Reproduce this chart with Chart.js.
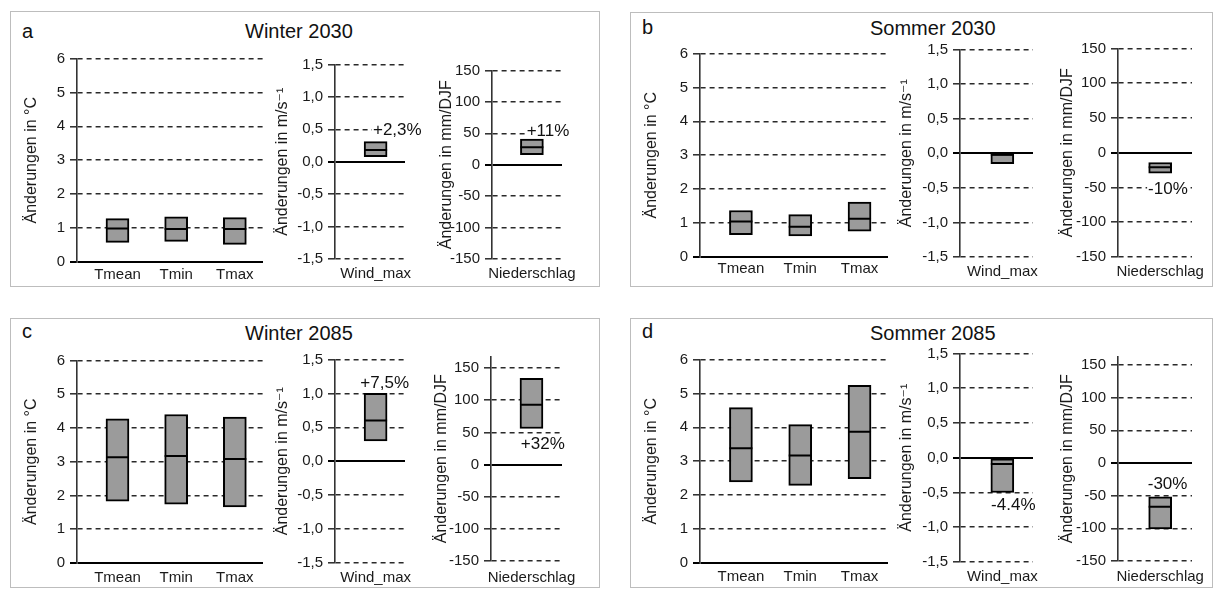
<!DOCTYPE html>
<html><head><meta charset="utf-8">
<script src="https://cdn.jsdelivr.net/npm/chart.js@4.4.1/dist/chart.umd.min.js"></script>
<style>
html,body{margin:0;padding:0;background:#fff;}
body{width:1220px;height:589px;position:relative;overflow:hidden;font-family:"Liberation Sans",Arial,sans-serif;}
.panel{position:absolute;border:1px solid #bdbdbd;box-sizing:border-box;}
.txt{position:absolute;font-size:20px;line-height:20px;color:#111;white-space:nowrap;}
canvas{position:absolute;}
</style></head><body>
<script>
// ---------- data ----------
const panelLetters = ['a', 'b', 'c', 'd'];
const panelTitles = ['Winter 2030', 'Sommer 2030', 'Winter 2085', 'Sommer 2085'];
const tempLabels = ['Tmean', 'Tmin', 'Tmax'];
const windLabels = ['Wind_max'];
const precipLabels = ['Niederschlag'];

// temperature change (°C): low / high / median for Tmean, Tmin, Tmax
const tempLowA = [0.58, 0.61, 0.52];
const tempHighA = [1.28, 1.33, 1.31];
const tempMedA = [0.99, 0.97, 0.97];
const tempLowB = [0.66, 0.62, 0.76];
const tempHighB = [1.37, 1.25, 1.62];
const tempMedB = [1.05, 0.89, 1.13];
const tempLowC = [1.83, 1.74, 1.66];
const tempHighC = [4.27, 4.40, 4.32];
const tempMedC = [3.13, 3.17, 3.08];
const tempLowD = [2.39, 2.29, 2.49];
const tempHighD = [4.58, 4.08, 5.24];
const tempMedD = [3.38, 3.17, 3.87];

// wind_max change (m/s) per panel a, b, c, d
const windLow = [0.08, -0.15, 0.30, -0.50];
const windHigh = [0.31, -0.01, 1.00, 0.00];
const windMed = [0.18, -0.02, 0.60, -0.09];
const windNotes = ['+2,3%', '', '+7,5%', '-4.4%'];

// precipitation change (mm/DJF) per panel a, b, c, d
const precipLow = [16, -29.5, 56, -100.8];
const precipHigh = [41, -14, 134, -51.7];
const precipMed = [28, -21, 93, -67];
const precipNotes = ['+11%', '-10%', '+32%', '-30%'];

// axis ticks
const tempTickStep = 1, tempMin = 0, tempMax = 6;
const windTickStep = 0.5, windMin = -1.5, windMax = 1.5;
const precipTickStep = 50, precipMin = -150;
const precipAxisTop = [150, 150, 168, 163];

// ---------- layout (pixels) ----------
const layout = [
  {box: [10, 11, 600, 287], letter: [22, 38], title: [245, 38],
   temp: {axisX: 77, right: 263, top: 57, bottom: 262, titleX: 32, gap: 13},
   wind: {axisX: 335, right: 405, top: 63, bottom: 259, titleX: 283, gap: 15},
   precip: {axisX: 492, right: 562, top: 69, bottom: 259, titleX: 447, gap: 15}},
  {box: [630, 12, 1213, 287], letter: [642, 34], title: [870, 35],
   temp: {axisX: 700, right: 888, top: 52, bottom: 257, titleX: 652, gap: 12},
   wind: {axisX: 960, right: 1033, top: 48, bottom: 257, titleX: 907, gap: 15},
   precip: {axisX: 1118, right: 1192, top: 47, bottom: 257, titleX: 1068, gap: 15}},
  {box: [10, 318, 600, 588], letter: [22, 338], title: [245, 340],
   temp: {axisX: 77, right: 263, top: 359, bottom: 563, titleX: 32, gap: 15},
   wind: {axisX: 335, right: 405, top: 358, bottom: 563, titleX: 283, gap: 15},
   precip: {axisX: 491, right: 562, top: 355, bottom: 561, titleX: 442, gap: 17}},
  {box: [630, 318, 1213, 588], letter: [642, 338], title: [870, 340],
   temp: {axisX: 700, right: 888, top: 358, bottom: 563, titleX: 652, gap: 14},
   wind: {axisX: 960, right: 1033, top: 352, bottom: 562, titleX: 907, gap: 15},
   precip: {axisX: 1118, right: 1192, top: 355, bottom: 561, titleX: 1068, gap: 16}}
];
const windNoteAt = [{x: 0.31, y: 0.41}, null, {x: 0.13, y: 1.08}, {x: 0.15, y: -0.755}];
const precipNoteAt = [{x: 0.23, y: 46}, {x: 0.105, y: -59}, {x: 0.16, y: 24.7}, {x: 0.1, y: -39.5}];

const FONT = '"Liberation Sans", Arial, "DejaVu Sans", sans-serif';
Chart.defaults.font.family = FONT;
Chart.defaults.color = '#1a1a1a';

const notePlugin = {
  id: 'note',
  afterDatasetsDraw(chart, args, opts) {
    if (!opts || !opts.text) return;
    const {ctx} = chart;
    const px = chart.scales.x.getPixelForValue(opts.x);
    const py = chart.scales.y.getPixelForValue(opts.y);
    ctx.save();
    ctx.font = '17px ' + FONT;
    ctx.textAlign = 'center';
    ctx.textBaseline = 'alphabetic';
    const w = ctx.measureText(opts.text).width;
    ctx.fillStyle = '#fff';
    ctx.fillRect(px - w / 2 - 1, py - 13, w + 2, 15);
    ctx.fillStyle = '#111';
    ctx.fillText(opts.text, px, py);
    ctx.restore();
  }
};

function addText(txt, x, baseline) {
  const d = document.createElement('div');
  d.className = 'txt';
  d.textContent = txt;
  d.style.left = x + 'px';
  d.style.top = (baseline - 17) + 'px';
  document.body.appendChild(d);
}

function makeChart(g, o) {
  const padTop = 12, padRight = 40, xH = 34;
  const wy = Math.round(g.axisX - g.titleX + 9.6);
  const left = g.axisX - wy;
  const w = wy + (g.right - g.axisX) + padRight;
  const h = padTop + (g.bottom - g.top) + xH;
  const cv = document.createElement('canvas');
  cv.width = w; cv.height = h;
  cv.style.left = left + 'px';
  cv.style.top = (g.top - padTop) + 'px';
  cv.style.width = w + 'px'; cv.style.height = h + 'px';
  document.body.appendChild(cv);
  const isZero = c => c.tick && Math.abs(c.tick.value) < 1e-9;
  new Chart(cv, {
    type: 'bar',
    data: {
      datasets: [
        {
          type: 'bar', order: 2,
          data: o.labels.map((_, i) => ({x: i, y: [o.low[i], o.high[i]]})),
          backgroundColor: '#9b9b9b', borderColor: '#000', borderWidth: 2,
          borderSkipped: false, barThickness: 23
        },
        {
          type: 'line', order: 1, showLine: false,
          data: o.labels.map((_, i) => ({x: i, y: o.med[i]})),
          pointStyle: 'line', pointRadius: 11.5, pointHoverRadius: 11.5,
          pointBorderWidth: 2, pointBorderColor: '#000', borderColor: '#000'
        }
      ]
    },
    options: {
      responsive: false, animation: false, events: [],
      layout: {padding: {top: padTop, right: padRight, left: 0, bottom: 0}},
      plugins: {legend: {display: false}, tooltip: {enabled: false}, note: o.note || {}},
      scales: {
        x: {
          type: 'linear', min: o.xMin, max: o.xMax, offset: false,
          grid: {display: false, drawTicks: false},
          border: {display: false},
          afterBuildTicks: s => { s.ticks = o.labels.map((_, i) => ({value: i})); },
          ticks: {
            autoSkip: false, maxRotation: 0,
            padding: g.gap - 9, font: {size: 15}, color: '#1a1a1a',
            callback: v => o.labels[Math.round(v)] ?? ''
          },
          afterFit: s => { s.height = xH; s.paddingLeft = 0; s.paddingRight = 0; }
        },
        y: {
          min: o.yMin, max: o.yMax,
          ticks: {
            stepSize: o.step, includeBounds: false, autoSkip: false,
            padding: 5, font: {size: 15}, color: '#1a1a1a',
            callback: o.fmt
          },
          grid: {
            color: c => isZero(c) ? '#000' : '#2a2a2a',
            lineWidth: c => isZero(c) ? 2 : 1.6,
            tickLength: 7,
            tickColor: c => isZero(c) ? '#000' : '#2a2a2a',
            tickWidth: c => isZero(c) ? 2 : 1.5
          },
          border: {display: true, color: '#333', width: 1.6,
                   dash: c => isZero(c) ? [] : [5, 4]},
          title: {display: true, text: o.title, font: {size: 16}, color: '#1a1a1a', padding: 0},
          afterFit: s => { s.width = wy; s.paddingTop = 0; s.paddingBottom = 0; }
        }
      }
    },
    plugins: [notePlugin]
  });
}

const tempLow = [tempLowA, tempLowB, tempLowC, tempLowD];
const tempHigh = [tempHighA, tempHighB, tempHighC, tempHighD];
const tempMed = [tempMedA, tempMedB, tempMedC, tempMedD];

layout.forEach((L, p) => {
  const b = document.createElement('div');
  b.className = 'panel';
  b.style.left = L.box[0] + 'px'; b.style.top = L.box[1] + 'px';
  b.style.width = (L.box[2] - L.box[0]) + 'px'; b.style.height = (L.box[3] - L.box[1]) + 'px';
  document.body.appendChild(b);
  addText(panelLetters[p], L.letter[0], L.letter[1]);
  addText(panelTitles[p], L.title[0], L.title[1]);

  makeChart(L.temp, {
    labels: tempLabels, low: tempLow[p], high: tempHigh[p], med: tempMed[p],
    xMin: -0.69, xMax: 2.48, yMin: tempMin, yMax: tempMax, step: tempTickStep,
    fmt: v => String(v), title: 'Änderungen in °C'
  });
  makeChart(L.wind, {
    labels: windLabels, low: [windLow[p]], high: [windHigh[p]], med: [windMed[p]],
    xMin: -0.58, xMax: 0.42, yMin: windMin, yMax: windMax, step: windTickStep,
    fmt: v => v.toFixed(1).replace('.', ','), title: 'Änderungen in m/s⁻¹',
    note: windNoteAt[p] ? {text: windNotes[p], x: windNoteAt[p].x, y: windNoteAt[p].y} : null
  });
  makeChart(L.precip, {
    labels: precipLabels, low: [precipLow[p]], high: [precipHigh[p]], med: [precipMed[p]],
    xMin: -0.57, xMax: 0.43, yMin: precipMin, yMax: precipAxisTop[p], step: precipTickStep,
    fmt: v => String(v), title: 'Änderungen in mm/DJF',
    note: {text: precipNotes[p], x: precipNoteAt[p].x, y: precipNoteAt[p].y}
  });
});
</script>
</body></html>
